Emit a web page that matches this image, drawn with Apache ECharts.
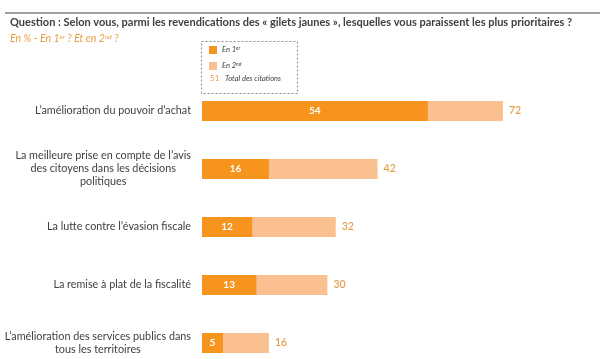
<!DOCTYPE html>
<html><head><meta charset="utf-8">
<script src="https://cdn.jsdelivr.net/npm/echarts@6/dist/echarts.min.js"></script>
<style>html,body{margin:0;padding:0;background:#fff}#c{width:600px;height:359px}</style>
</head><body><div id="c"></div>
<script>
const categories = [
  "L\u2019amélioration du pouvoir d\u2019achat",
  "La meilleure prise en compte de l\u2019avis\ndes citoyens dans les décisions\npolitiques",
  "La lutte contre l\u2019évasion fiscale",
  "La remise à plat de la fiscalité",
  "L\u2019amélioration des services publics dans\ntous les territoires"
];
const firstRank = [54, 16, 12, 13, 5];
const totalCitations = [72, 42, 32, 30, 16];

const DARK = '#F7941E', LIGHT = '#FBC08F', VAL = '#E3A04F', TXT = '#404040';
const FONT = 'Lato';

const chart = echarts.init(document.getElementById('c'));
chart.setOption({
  animation: false,
  textStyle: { fontFamily: FONT },
  title: {
    text: 'Question : Selon vous, parmi les revendications des « gilets jaunes », lesquelles vous paraissent les plus prioritaires ?',
    subtext: '{t|En % - En 1}{s|er}{t| ? Et en 2}{s|nd}{t| ?}',
    left: 10, top: 17, itemGap: 5, padding: 0,
    textStyle: { fontFamily: FONT, fontSize: 11, fontWeight: 'bold', color: TXT },
    subtextStyle: { rich: {
      t: { fontFamily: FONT, fontSize: 10.5, fontStyle: 'italic', color: '#E59E3F' },
      s: { fontFamily: FONT, fontSize: 6.5, fontStyle: 'italic', color: '#E59E3F', verticalAlign: 'top', padding: [0,0,5,0] }
    } }
  },
  legend: {
    data: ['En 1er', 'En 2nd'], orient: 'vertical', left: 209, top: 46,
    itemWidth: 8, itemHeight: 8, itemGap: 8, padding: 0,
    icon: 'rect',
    formatter: n => n === 'En 1er' ? '{a|En 1}{s|er}' : '{a|En 2}{s|nd}',
    textStyle: { rich: {
      a: { fontFamily: FONT, fontSize: 7.5, fontStyle: 'italic', color: TXT },
      s: { fontFamily: FONT, fontSize: 5, fontStyle: 'italic', color: TXT, verticalAlign: 'top', padding: [0,0,3,0] }
    } }
  },
  graphic: [
    { type: 'line', shape: { x1: 5, y1: 13, x2: 600, y2: 13 }, style: { stroke: '#808080', lineWidth: 1.5 } },
    { type: 'rect', shape: { x: 201.5, y: 41.5, width: 96, height: 52 }, style: { fill: 'none', stroke: '#8a8a8a', lineWidth: 1, lineDash: [2, 2] } },
    { type: 'text', left: 210, top: 74, style: { text: '51', fontFamily: FONT, fontSize: 8, fill: VAL } },
    { type: 'text', left: 225, top: 74.5, style: { text: 'Total des citations', fontFamily: FONT, fontSize: 7.5, fontStyle: 'italic', fill: TXT } }
  ],
  grid: { left: 202, top: 82, width: 418, height: 290, outerBoundsMode: 'none', containLabel: false },
  xAxis: { type: 'value', min: 0, max: 100, show: false },
  yAxis: {
    type: 'category', data: categories, inverse: true,
    axisLine: { show: false }, axisTick: { show: false },
    axisLabel: {
      margin: 11, lineHeight: 13,
      formatter: v => v.split('\n').map(l => '{c|' + l + '}').join('\n'),
      rich: { c: { align: 'center', fontFamily: FONT, fontSize: 10.8, color: TXT, lineHeight: 13 } }
    }
  },
  series: [
    { name: 'En 2nd', type: 'bar', data: totalCitations, barWidth: 20, itemStyle: { color: LIGHT },
      label: { show: true, position: 'right', distance: 6, fontFamily: FONT, fontSize: 10.5, fontWeight: 600, color: VAL } },
    { name: 'En 1er', type: 'bar', data: firstRank, barWidth: 20, barGap: '-100%', itemStyle: { color: DARK },
      label: { show: true, position: 'inside', fontFamily: FONT, fontSize: 10, fontWeight: 'bold', color: '#fff' } }
  ]
});
</script>
</body></html>
